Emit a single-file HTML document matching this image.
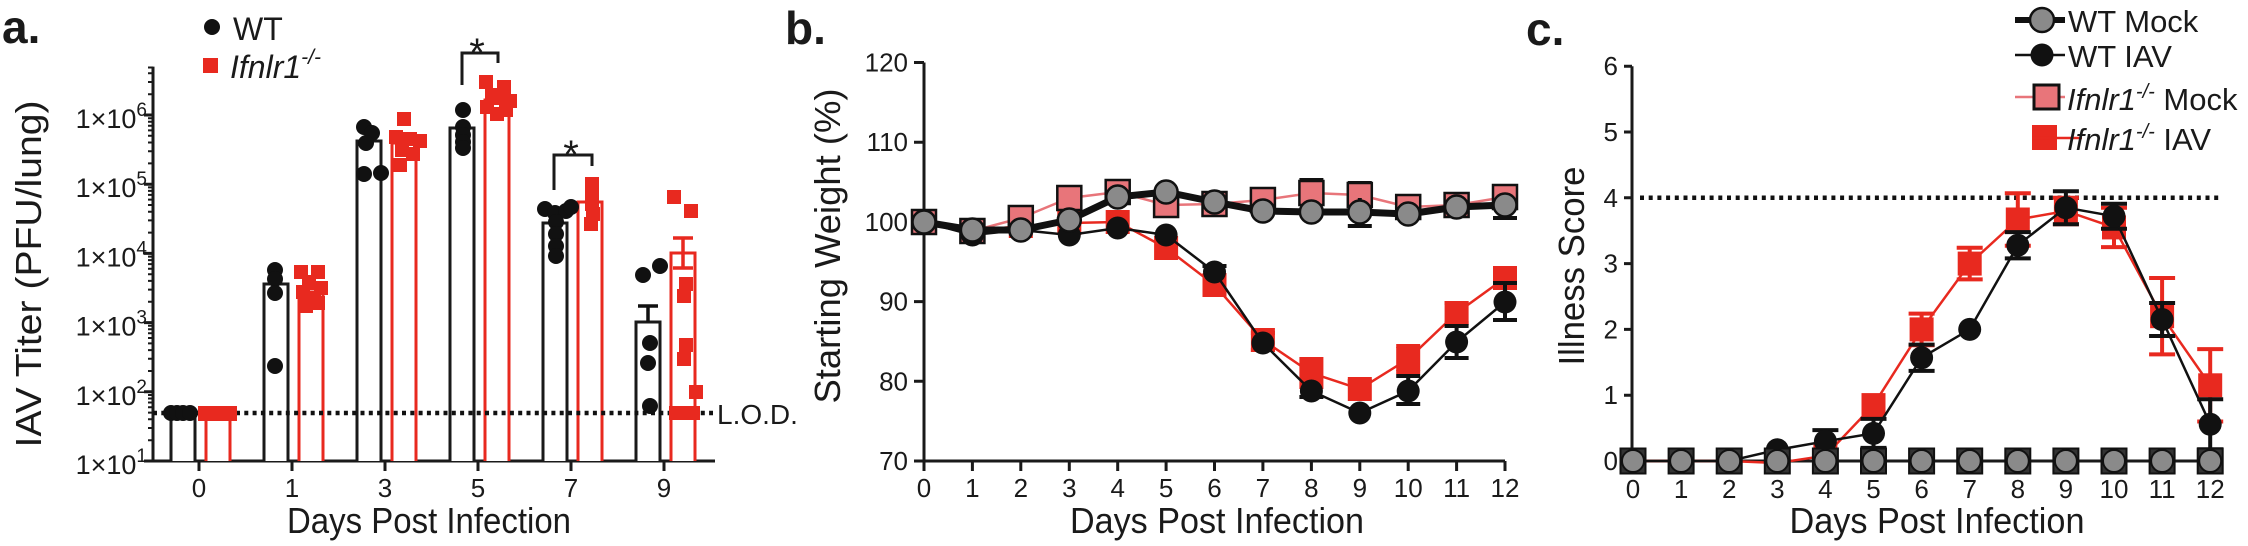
<!DOCTYPE html>
<html>
<head>
<meta charset="utf-8">
<style>
  html,body{margin:0;padding:0;background:#fff;}
  svg{display:block;}
  text{font-family:"Liberation Sans",Arial,sans-serif;fill:#1a1a1a;}
</style>
</head>
<body>
<svg width="2248" height="546" viewBox="0 0 2248 546" xmlns="http://www.w3.org/2000/svg">
<rect width="2248" height="546" fill="#fff"/>

<!-- ================= PANEL A ================= -->
<text x="2" y="43" font-size="46" font-weight="bold">a.</text>
<!-- legend -->
<circle cx="212" cy="27" r="8" fill="#111"/>
<text x="233" y="40" font-size="32">WT</text>
<rect x="203" y="58" width="15" height="15" fill="#e8291f"/>
<text x="230" y="78" font-size="32" font-style="italic">Ifnlr1<tspan font-size="21" dy="-14">-/-</tspan></text>

<!-- axes -->
<g stroke="#1a1a1a" stroke-width="3" fill="none">
  <path d="M153 66.6V461H715"/>
  <path d="M144 461H153M144 391.8H153M144 322.6H153M144 253.4H153M144 184.2H153M144 115H153"/>
  <path d="M199 461V471M292 461V471M385 461V471M478 461V471M571 461V471M664 461V471"/>
</g>
<g stroke="#1a1a1a" stroke-width="2" fill="none">
  <path d="M148 440.2H153M148 428H153M148 419.3H153M148 412.6H153M148 407.2H153M148 402.5H153M148 398.5H153M148 395H153
           M148 371H153M148 358.8H153M148 350.1H153M148 343.4H153M148 338H153M148 333.3H153M148 329.3H153M148 325.8H153
           M148 301.8H153M148 289.6H153M148 280.9H153M148 274.2H153M148 268.8H153M148 264.1H153M148 260.1H153M148 256.6H153
           M148 232.6H153M148 220.4H153M148 211.7H153M148 205H153M148 199.6H153M148 194.9H153M148 190.9H153M148 187.4H153
           M148 163.4H153M148 151.2H153M148 142.5H153M148 135.8H153M148 130.4H153M148 125.7H153M148 121.7H153M148 118.2H153
           M148 94.2H153M148 82H153M148 73.3H153M148 67.5H153"/>
</g>
<!-- y tick labels -->
<g font-size="27" text-anchor="end">
  <text x="147" y="474">1×10<tspan font-size="19" dy="-12">1</tspan></text>
  <text x="147" y="404.8">1×10<tspan font-size="19" dy="-12">2</tspan></text>
  <text x="147" y="335.6">1×10<tspan font-size="19" dy="-12">3</tspan></text>
  <text x="147" y="266.4">1×10<tspan font-size="19" dy="-12">4</tspan></text>
  <text x="147" y="197.2">1×10<tspan font-size="19" dy="-12">5</tspan></text>
  <text x="147" y="128">1×10<tspan font-size="19" dy="-12">6</tspan></text>
</g>
<text transform="translate(41,274) rotate(-90)" text-anchor="middle" font-size="36" textLength="347" lengthAdjust="spacingAndGlyphs">IAV Titer (PFU/lung)</text>
<g font-size="26" text-anchor="middle">
  <text x="199" y="497">0</text><text x="292" y="497">1</text><text x="385" y="497">3</text>
  <text x="478" y="497">5</text><text x="571" y="497">7</text><text x="664" y="497">9</text>
</g>
<text x="429" y="533" text-anchor="middle" font-size="36" textLength="284" lengthAdjust="spacingAndGlyphs">Days Post Infection</text>

<!-- bars -->
<g fill="#fff" stroke="#1a1a1a" stroke-width="3">
  <path d="M171 461V413H195V461"/>
  <path d="M264 461V284H288V461"/>
  <path d="M357 461V141H381V461"/>
  <path d="M450 461V128H474V461"/>
  <path d="M543 461V223H567V461"/>
  <path d="M636 461V322H660V461"/>
</g>
<g fill="#fff" stroke="#e8291f" stroke-width="3">
  <path d="M206 461V413H230V461"/>
  <path d="M299 461V289H323V461"/>
  <path d="M392 461V143H416V461"/>
  <path d="M485 461V100H509V461"/>
  <path d="M578 461V202H602V461"/>
  <path d="M671 461V253H695V461"/>
</g>
<!-- LOD -->
<line x1="153" y1="413" x2="713" y2="413" stroke="#111" stroke-width="4.5" stroke-dasharray="4 4.3"/>
<text x="717" y="424" font-size="28">L.O.D.</text>
<!-- error bars -->
<path d="M648 306V322M638 306H658" stroke="#111" stroke-width="3.5" fill="none"/>
<path d="M683 238V268M673 238H693M673 268H693" stroke="#e8291f" stroke-width="3.5" fill="none"/>
<!-- black dots -->
<g fill="#111">
  <circle cx="171" cy="413" r="8"/><circle cx="177" cy="413" r="8"/><circle cx="183" cy="413" r="8"/><circle cx="190" cy="413" r="8"/>
  <circle cx="275" cy="270" r="8"/><circle cx="275" cy="279" r="8"/><circle cx="275" cy="293" r="8"/><circle cx="275" cy="366" r="8"/>
  <circle cx="364" cy="127" r="8"/><circle cx="372" cy="133" r="8"/><circle cx="366" cy="143" r="8"/><circle cx="364" cy="174" r="8"/><circle cx="381" cy="173" r="8"/>
  <circle cx="463" cy="110" r="8"/><circle cx="463" cy="127" r="8"/><circle cx="463" cy="135" r="8"/><circle cx="463" cy="142" r="8"/><circle cx="463" cy="148" r="8"/>
  <circle cx="545" cy="209" r="8"/><circle cx="555" cy="213" r="8"/><circle cx="566" cy="211" r="8"/><circle cx="571" cy="207" r="8"/>
  <circle cx="556" cy="222" r="8"/><circle cx="556" cy="234" r="8"/><circle cx="556" cy="246" r="8"/><circle cx="556" cy="256" r="8"/>
  <circle cx="643" cy="275" r="8"/><circle cx="660" cy="266" r="8"/><circle cx="650" cy="343" r="8"/><circle cx="648" cy="363" r="8"/><circle cx="650" cy="406" r="8"/>
</g>
<!-- red squares -->
<g fill="#e8291f">
  <rect x="198" y="406" width="15" height="15"/><rect x="206" y="406" width="15" height="15"/><rect x="214" y="406" width="15" height="15"/><rect x="222" y="406" width="15" height="15"/>
  <rect x="294" y="265" width="14" height="14"/><rect x="311" y="265" width="14" height="14"/><rect x="302" y="275" width="14" height="14"/><rect x="314" y="281" width="14" height="14"/>
  <rect x="296" y="285" width="14" height="14"/><rect x="307" y="291" width="14" height="14"/><rect x="299" y="299" width="14" height="14"/><rect x="311" y="296" width="14" height="14"/>
  <rect x="397" y="112" width="14" height="14"/><rect x="389" y="130" width="14" height="14"/><rect x="403" y="132" width="14" height="14"/><rect x="413" y="134" width="14" height="14"/>
  <rect x="395" y="143" width="14" height="14"/><rect x="406" y="147" width="14" height="14"/><rect x="393" y="158" width="14" height="14"/>
  <rect x="479" y="75" width="14" height="14"/><rect x="497" y="80" width="14" height="14"/><rect x="490" y="91" width="14" height="14"/><rect x="503" y="94" width="14" height="14"/>
  <rect x="480" y="100" width="14" height="14"/><rect x="490" y="107" width="14" height="14"/><rect x="499" y="103" width="14" height="14"/><rect x="485" y="88" width="14" height="14"/>
  <rect x="585" y="177" width="14" height="14"/><rect x="585" y="187" width="14" height="14"/><rect x="585" y="197" width="14" height="14"/><rect x="586" y="207" width="14" height="14"/><rect x="584" y="217" width="14" height="14"/>
  <rect x="667" y="190" width="14" height="14"/><rect x="684" y="204" width="14" height="14"/><rect x="679" y="277" width="14" height="14"/><rect x="677" y="289" width="14" height="14"/>
  <rect x="679" y="338" width="14" height="14"/><rect x="677" y="352" width="14" height="14"/><rect x="689" y="385" width="14" height="14"/>
  <rect x="669" y="406" width="14" height="14"/><rect x="678" y="406" width="14" height="14"/><rect x="686" y="406" width="14" height="14"/>
</g>
<!-- significance -->
<path d="M462 85V53H498V63M554 190V155H592V166" stroke="#1a1a1a" stroke-width="3" fill="none"/>
<text x="477" y="66" font-size="40" text-anchor="middle">*</text>
<text x="571" y="168" font-size="40" text-anchor="middle">*</text>

<!-- ================= PANEL B ================= -->
<text x="785" y="44" font-size="46" font-weight="bold">b.</text>
<g stroke="#1a1a1a" stroke-width="3" fill="none">
  <path d="M924 62.5V461H1505"/>
  <path d="M914 62.5H924M914 142.2H924M914 221.9H924M914 301.6H924M914 381.3H924M914 461H924"/>
  <path d="M924 461V471M972.4 461V471M1020.8 461V471M1069.3 461V471M1117.7 461V471M1166.1 461V471M1214.5 461V471M1262.9 461V471M1311.4 461V471M1359.8 461V471M1408.2 461V471M1456.6 461V471M1505 461V471"/>
</g>
<g font-size="26" text-anchor="end">
  <text x="908" y="71.5">120</text><text x="908" y="151.2">110</text><text x="908" y="230.9">100</text>
  <text x="908" y="310.6">90</text><text x="908" y="390.3">80</text><text x="908" y="470">70</text>
</g>
<g font-size="26" text-anchor="middle">
  <text x="924" y="497">0</text><text x="972.4" y="497">1</text><text x="1020.8" y="497">2</text><text x="1069.3" y="497">3</text>
  <text x="1117.7" y="497">4</text><text x="1166.1" y="497">5</text><text x="1214.5" y="497">6</text><text x="1262.9" y="497">7</text>
  <text x="1311.4" y="497">8</text><text x="1359.8" y="497">9</text><text x="1408.2" y="497">10</text><text x="1456.6" y="497">11</text><text x="1505" y="497">12</text>
</g>
<text transform="translate(840,246) rotate(-90)" text-anchor="middle" font-size="36" textLength="315" lengthAdjust="spacingAndGlyphs">Starting Weight (%)</text>
<text x="1217" y="533" text-anchor="middle" font-size="36" textLength="294" lengthAdjust="spacingAndGlyphs">Days Post Infection</text>

<!-- red IAV -->
<path d="M1262.9 333V350M1250.9 333h24M1250.9 350h24M1311.4 359V387M1299.4 359h24M1299.4 387h24M1359.8 381V397M1347.8 381h24M1408.2 346V372M1396.2 346h24M1396.2 372h24M1456.6 303V323M1444.6 303h24M1444.6 323h24M1505 268V288M1493 268h24M1493 288h24M1214.5 278V292M1202.5 292h24" stroke="#e8291f" stroke-width="4" fill="none"/>
<polyline points="924,222 972.4,231 1020.8,226 1069.3,223 1117.7,222 1166.1,248 1214.5,285 1262.9,340 1311.4,373 1359.8,389 1408.2,359 1456.6,313 1505,278" stroke="#e8291f" stroke-width="2.5" fill="none"/>
<g fill="#e8291f">
  <rect x="912" y="210" width="24" height="24"/><rect x="960.4" y="219" width="24" height="24"/><rect x="1008.8" y="214" width="24" height="24"/>
  <rect x="1057.3" y="211" width="24" height="24"/><rect x="1105.7" y="210" width="24" height="24"/><rect x="1154.1" y="236" width="24" height="24"/>
  <rect x="1202.5" y="273" width="24" height="24"/><rect x="1250.9" y="328" width="24" height="24"/><rect x="1299.4" y="361" width="24" height="24"/>
  <rect x="1347.8" y="377" width="24" height="24"/><rect x="1396.2" y="347" width="24" height="24"/><rect x="1444.6" y="301" width="24" height="24"/><rect x="1493" y="266" width="24" height="24"/>
</g>
<!-- pink mock -->
<polyline points="924,222 972.4,231 1020.8,218 1069.3,198 1117.7,192 1166.1,205 1214.5,204 1262.9,200 1311.4,193 1359.8,195 1408.2,207 1456.6,205 1505,197" stroke="#e8757a" stroke-width="2.5" fill="none"/>
<path d="M1311.4 180V206M1299.4 180h24M1359.8 183V200M1347.8 183h24M1505 186V200M1493 186h24" stroke="#111" stroke-width="4" fill="none"/>
<g fill="#e8757a" stroke="#111" stroke-width="2.5">
  <rect x="912" y="210" width="24" height="24"/><rect x="960.4" y="219" width="24" height="24"/><rect x="1008.8" y="206" width="24" height="24"/>
  <rect x="1057.3" y="186" width="24" height="24"/><rect x="1105.7" y="180" width="24" height="24"/><rect x="1154.1" y="193" width="24" height="24"/>
  <rect x="1202.5" y="192" width="24" height="24"/><rect x="1250.9" y="188" width="24" height="24"/><rect x="1299.4" y="181" width="24" height="24"/>
  <rect x="1347.8" y="183" width="24" height="24"/><rect x="1396.2" y="195" width="24" height="24"/><rect x="1444.6" y="193" width="24" height="24"/><rect x="1493" y="185" width="24" height="24"/>
</g>
<!-- black IAV -->
<path d="M1214.5 266V279M1202.5 266h24M1262.9 337V349M1311.4 385V397M1299.4 397h24M1408.2 376V404M1396.2 376h24M1396.2 404h24M1456.6 326V358M1444.6 326h24M1444.6 358h24M1505 283V320M1493 283h24M1493 320h24" stroke="#111" stroke-width="4" fill="none"/>
<polyline points="924,222 972.4,235 1020.8,230 1069.3,235 1117.7,228 1166.1,235 1214.5,272 1262.9,343 1311.4,391 1359.8,413 1408.2,391 1456.6,342 1505,302" stroke="#111" stroke-width="2.5" fill="none"/>
<g fill="#111">
  <circle cx="924" cy="222" r="11.5"/><circle cx="972.4" cy="235" r="11.5"/><circle cx="1020.8" cy="230" r="11.5"/><circle cx="1069.3" cy="235" r="11.5"/>
  <circle cx="1117.7" cy="228" r="11.5"/><circle cx="1166.1" cy="235" r="11.5"/><circle cx="1214.5" cy="272" r="11.5"/><circle cx="1262.9" cy="343" r="11.5"/>
  <circle cx="1311.4" cy="391" r="11.5"/><circle cx="1359.8" cy="413" r="11.5"/><circle cx="1408.2" cy="391" r="11.5"/><circle cx="1456.6" cy="342" r="11.5"/><circle cx="1505" cy="302" r="11.5"/>
</g>
<!-- gray mock -->
<path d="M1359.8 198V226M1347.8 226h24M1505 205V218M1493 218h24" stroke="#111" stroke-width="4" fill="none"/>
<polyline points="924,222 972.4,230 1020.8,230 1069.3,220 1117.7,197 1166.1,192 1214.5,202 1262.9,211 1311.4,212 1359.8,212 1408.2,214 1456.6,207 1505,205" stroke="#111" stroke-width="7" fill="none" stroke-linejoin="round"/>
<g fill="#8a8a8a" stroke="#111" stroke-width="2.5">
  <circle cx="924" cy="222" r="11.5"/><circle cx="972.4" cy="230" r="11.5"/><circle cx="1020.8" cy="230" r="11.5"/><circle cx="1069.3" cy="220" r="11.5"/>
  <circle cx="1117.7" cy="197" r="11.5"/><circle cx="1166.1" cy="192" r="11.5"/><circle cx="1214.5" cy="202" r="11.5"/><circle cx="1262.9" cy="211" r="11.5"/>
  <circle cx="1311.4" cy="212" r="11.5"/><circle cx="1359.8" cy="212" r="11.5"/><circle cx="1408.2" cy="214" r="11.5"/><circle cx="1456.6" cy="207" r="11.5"/><circle cx="1505" cy="205" r="11.5"/>
</g>

<!-- ================= PANEL C ================= -->
<text x="1526" y="45" font-size="46" font-weight="bold">c.</text>
<g stroke="#1a1a1a" stroke-width="3" fill="none">
  <path d="M1632 66.2V461H2222"/>
  <path d="M1624 461H1632M1624 395.2H1632M1624 329.4H1632M1624 263.6H1632M1624 197.8H1632M1624 132H1632M1624 66.2H1632"/>
</g>
<g font-size="26" text-anchor="end">
  <text x="1618" y="470">0</text><text x="1618" y="404.2">1</text><text x="1618" y="338.4">2</text><text x="1618" y="272.6">3</text>
  <text x="1618" y="206.8">4</text><text x="1618" y="141">5</text><text x="1618" y="75.2">6</text>
</g>
<g font-size="26" text-anchor="middle">
  <text x="1633" y="498">0</text><text x="1681.1" y="498">1</text><text x="1729.2" y="498">2</text><text x="1777.3" y="498">3</text>
  <text x="1825.4" y="498">4</text><text x="1873.5" y="498">5</text><text x="1921.6" y="498">6</text><text x="1969.7" y="498">7</text>
  <text x="2017.8" y="498">8</text><text x="2065.9" y="498">9</text><text x="2114" y="498">10</text><text x="2162.1" y="498">11</text><text x="2210.2" y="498">12</text>
</g>
<text transform="translate(1584,266) rotate(-90)" text-anchor="middle" font-size="36" textLength="199" lengthAdjust="spacingAndGlyphs">Illness Score</text>
<text x="1937" y="533" text-anchor="middle" font-size="36" textLength="295" lengthAdjust="spacingAndGlyphs">Days Post Infection</text>
<line x1="1640" y1="197.8" x2="2222" y2="197.8" stroke="#111" stroke-width="4.5" stroke-dasharray="4 4.7"/>

<!-- red IAV -->
<path d="M1921.6 313.6V345.2M1908.6 313.6h26M1908.6 345.2h26M1969.7 247.8V279.4M1956.7 247.8h26M1956.7 279.4h26M2017.8 193.2V245.8M2004.8 193.2h26M2004.8 245.8h26M2065.9 197.8V224.2M2052.9 197.8h26M2052.9 224.2h26M2114 207.7V247.1M2101 207.7h26M2101 247.1h26M2162.1 278V354.4M2149.1 278h26M2149.1 354.4h26M2210.2 349.1V421.5M2197.2 349.1h26M2197.2 421.5h26" stroke="#e8291f" stroke-width="4" fill="none"/>
<polyline points="1633,461 1681.1,461 1729.2,461 1777.3,463 1825.4,455.7 1873.5,405.1 1921.6,329.4 1969.7,263.6 2017.8,219.5 2065.9,211 2114,227.4 2162.1,316.2 2210.2,385.3" stroke="#e8291f" stroke-width="2.5" fill="none"/>
<g fill="#e8291f">
  <rect x="1813.4" y="443.7" width="24" height="24"/><rect x="1861.5" y="393.1" width="24" height="24"/><rect x="1909.6" y="317.4" width="24" height="24"/>
  <rect x="1957.7" y="251.6" width="24" height="24"/><rect x="2005.8" y="207.5" width="24" height="24"/><rect x="2053.9" y="199" width="24" height="24"/>
  <rect x="2102" y="215.4" width="24" height="24"/><rect x="2150.1" y="304.2" width="24" height="24"/><rect x="2198.2" y="373.3" width="24" height="24"/>
</g>
<!-- black IAV -->
<path d="M1825.4 430.1V452.5M1812.4 430.1h26M1873.5 418.9V447.9M1860.5 418.9h26M1860.5 447.9h26M1921.6 344.6V370.9M1908.6 344.6h26M1908.6 370.9h26M2017.8 232.1V258.4M2004.8 232.1h26M2004.8 258.4h26M2065.9 191.3V224.2M2052.9 191.3h26M2052.9 224.2h26M2114 203.7V228.7M2101 203.7h26M2101 228.7h26M2162.1 303V336M2149.1 303h26M2149.1 336h26M2210.2 399.2V449.2M2197.2 399.2h26M2197.2 449.2h26" stroke="#111" stroke-width="4" fill="none"/>
<polyline points="1633,461 1681.1,461 1729.2,461 1777.3,449.8 1825.4,441.3 1873.5,433.4 1921.6,357.7 1969.7,329.4 2017.8,245.2 2065.9,207.7 2114,216.2 2162.1,319.5 2210.2,424.2" stroke="#111" stroke-width="2.5" fill="none"/>
<g fill="#111">
  <circle cx="1777.3" cy="449.8" r="11.5"/><circle cx="1825.4" cy="441.3" r="11.5"/><circle cx="1873.5" cy="433.4" r="11.5"/>
  <circle cx="1921.6" cy="357.7" r="11.5"/><circle cx="1969.7" cy="329.4" r="11.5"/><circle cx="2017.8" cy="245.2" r="11.5"/>
  <circle cx="2065.9" cy="207.7" r="11.5"/><circle cx="2114" cy="216.2" r="11.5"/><circle cx="2162.1" cy="319.5" r="11.5"/><circle cx="2210.2" cy="424.2" r="11.5"/>
</g>
<!-- mock at zero -->
<g fill="#333" stroke="#111" stroke-width="2">
  <rect x="1620.5" y="448.5" width="25" height="25"/><rect x="1668.6" y="448.5" width="25" height="25"/><rect x="1716.7" y="448.5" width="25" height="25"/>
  <rect x="1764.8" y="448.5" width="25" height="25"/><rect x="1812.9" y="448.5" width="25" height="25"/><rect x="1861" y="448.5" width="25" height="25"/>
  <rect x="1909.1" y="448.5" width="25" height="25"/><rect x="1957.2" y="448.5" width="25" height="25"/><rect x="2005.3" y="448.5" width="25" height="25"/>
  <rect x="2053.4" y="448.5" width="25" height="25"/><rect x="2101.5" y="448.5" width="25" height="25"/><rect x="2149.6" y="448.5" width="25" height="25"/><rect x="2197.7" y="448.5" width="25" height="25"/>
</g>
<g fill="#8a8a8a" stroke="#111" stroke-width="2">
  <circle cx="1633" cy="461" r="11"/><circle cx="1681.1" cy="461" r="11"/><circle cx="1729.2" cy="461" r="11"/><circle cx="1777.3" cy="461" r="11"/>
  <circle cx="1825.4" cy="461" r="11"/><circle cx="1873.5" cy="461" r="11"/><circle cx="1921.6" cy="461" r="11"/><circle cx="1969.7" cy="461" r="11"/>
  <circle cx="2017.8" cy="461" r="11"/><circle cx="2065.9" cy="461" r="11"/><circle cx="2114" cy="461" r="11"/><circle cx="2162.1" cy="461" r="11"/><circle cx="2210.2" cy="461" r="11"/>
</g>

<!-- legend c -->
<line x1="2015" y1="20" x2="2065" y2="20" stroke="#111" stroke-width="6"/>
<circle cx="2042" cy="20" r="12" fill="#8a8a8a" stroke="#111" stroke-width="2.5"/>
<line x1="2015" y1="55" x2="2065" y2="55" stroke="#111" stroke-width="2.5"/>
<circle cx="2042" cy="55" r="11.5" fill="#111"/>
<line x1="2015" y1="97" x2="2065" y2="97" stroke="#e8757a" stroke-width="2.5"/>
<rect x="2034" y="85" width="25" height="24" fill="#e8757a" stroke="#111" stroke-width="3"/>
<rect x="2032" y="125" width="25" height="25" fill="#e8291f"/>
<line x1="2032" y1="138" x2="2082" y2="138" stroke="#e8291f" stroke-width="2.5"/>
<g font-size="31">
  <text x="2068" y="32">WT Mock</text>
  <text x="2068" y="67">WT IAV</text>
  <text x="2067" y="110"><tspan font-style="italic">Ifnlr1</tspan><tspan font-size="20" font-style="italic" dy="-12">-/-</tspan><tspan dy="12"> Mock</tspan></text>
  <text x="2067" y="150"><tspan font-style="italic">Ifnlr1</tspan><tspan font-size="20" font-style="italic" dy="-12">-/-</tspan><tspan dy="12"> IAV</tspan></text>
</g>
</svg>
</body>
</html>
